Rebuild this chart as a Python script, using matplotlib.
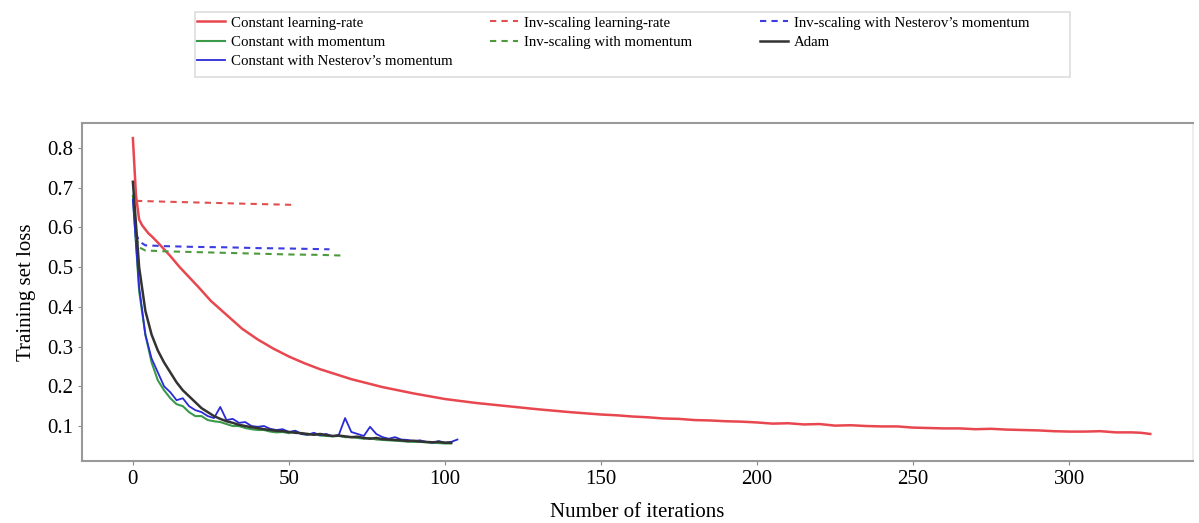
import matplotlib
matplotlib.use("Agg")
import matplotlib.pyplot as plt
from matplotlib.patches import Rectangle

plt.rcParams['font.family'] = ['Liberation Serif', 'DejaVu Serif']

# constant learning-rate (red solid)
red_x = [0, 1, 2, 3, 4, 5, 6, 8, 10, 12, 15, 18, 21, 25, 30, 35, 40, 45, 50, 55, 60, 70, 80, 90,
         100, 110, 120, 130, 140, 150, 155, 160, 165, 170, 175, 180, 185, 190, 195, 200, 205, 210,
         215, 220, 225, 230, 235, 240, 245, 250, 255, 260, 265, 270, 275, 280, 285, 290, 295, 300,
         305, 310, 315, 320, 323, 326]
red_y = [0.825, 0.68, 0.62, 0.605, 0.595, 0.585, 0.578, 0.562, 0.545, 0.528, 0.5, 0.475, 0.45,
         0.415, 0.38, 0.345, 0.318, 0.295, 0.275, 0.258, 0.243, 0.218, 0.198, 0.182,
         0.168, 0.158, 0.150, 0.142, 0.135, 0.129, 0.127, 0.124, 0.122, 0.119, 0.118, 0.115, 0.114,
         0.112, 0.111, 0.109, 0.106, 0.107, 0.104, 0.105, 0.101, 0.102, 0.100, 0.099, 0.099, 0.096,
         0.095, 0.094, 0.094, 0.092, 0.093, 0.091, 0.090, 0.089, 0.087, 0.086, 0.086, 0.087, 0.084,
         0.084, 0.083, 0.080]

# inv-scaling runs (dashed)
inv_lr_x = [1, 10, 20, 30, 40, 51]
inv_lr_y = [0.667, 0.665, 0.663, 0.661, 0.659, 0.657]
inv_nes_x = [1, 2, 4, 10, 20, 30, 40, 50, 63]
inv_nes_y = [0.585, 0.565, 0.555, 0.553, 0.551, 0.550, 0.548, 0.547, 0.545]
inv_mom_x = [1, 2, 4, 10, 20, 30, 40, 50, 60, 68]
inv_mom_y = [0.575, 0.55, 0.542, 0.540, 0.538, 0.536, 0.534, 0.532, 0.531, 0.529]

it2 = list(range(0, 105, 2))
nes_y = [0.67, 0.45, 0.33, 0.27, 0.235, 0.2, 0.185, 0.165, 0.17, 0.15, 0.14, 0.135, 0.125, 0.12,
         0.148, 0.115, 0.118, 0.108, 0.11, 0.1, 0.098, 0.1, 0.093, 0.09, 0.092, 0.085, 0.088, 0.08,
         0.078, 0.083, 0.077, 0.08, 0.074, 0.078, 0.12, 0.085, 0.08, 0.075, 0.098, 0.08, 0.072,
         0.068, 0.072, 0.066, 0.065, 0.062, 0.064, 0.06, 0.058, 0.062, 0.058, 0.06, 0.066]
mom_y = [0.68, 0.44, 0.33, 0.26, 0.215, 0.19, 0.17, 0.155, 0.15, 0.135, 0.125, 0.125, 0.115, 0.112,
         0.11, 0.105, 0.1, 0.1, 0.095, 0.092, 0.09, 0.09, 0.086, 0.084, 0.085, 0.082, 0.088, 0.08,
         0.078, 0.08, 0.076, 0.075, 0.074, 0.075, 0.072, 0.072, 0.07, 0.068, 0.07, 0.066, 0.065,
         0.064, 0.063, 0.062, 0.061, 0.06, 0.06, 0.059, 0.058, 0.057, 0.056, 0.056]
adam_y = [0.715, 0.5, 0.39, 0.33, 0.29, 0.26, 0.235, 0.21, 0.19, 0.175, 0.16, 0.145, 0.135, 0.125,
          0.118, 0.112, 0.108, 0.103, 0.1, 0.097, 0.095, 0.092, 0.09, 0.088, 0.087, 0.085, 0.083,
          0.082, 0.08, 0.078, 0.08, 0.077, 0.075, 0.076, 0.074, 0.072, 0.073, 0.07, 0.068, 0.07,
          0.067, 0.066, 0.065, 0.064, 0.062, 0.063, 0.061, 0.06, 0.059, 0.06, 0.058, 0.058]

fig = plt.figure(figsize=(11.99, 5.23), dpi=100)
ax = fig.add_axes([0.0684, 0.1186, 0.9266, 0.6462])

dash = (0, (3, 2.5))
l1, = ax.plot(red_x, red_y, color='#e8474f', lw=1.8, label='Constant learning-rate')
l2, = ax.plot(it2[:len(mom_y)], mom_y, color='#3a9a4a', lw=1.5, label='Constant with momentum')
l3, = ax.plot(it2[:len(nes_y)], nes_y, color='#2a2ad8', lw=1.3, label='Constant with Nesterov\u2019s momentum')
l4, = ax.plot(inv_lr_x, inv_lr_y, color='#e05050', lw=1.5, ls=dash, label='Inv-scaling learning-rate')
l5, = ax.plot(inv_mom_x, inv_mom_y, color='#4c9a3c', lw=1.5, ls=dash, label='Inv-scaling with momentum')
l6, = ax.plot(inv_nes_x, inv_nes_y, color='#3c3ce0', lw=1.5, ls=dash, label='Inv-scaling with Nesterov\u2019s momentum')
l7, = ax.plot(it2[:len(adam_y)], adam_y, color='#333333', lw=1.8, label='Adam')

ax.set_xlim(-16.3, 339.7)
ax.set_ylim(0.012, 0.863)
ax.set_xticks([0, 50, 100, 150, 200, 250, 300])
ax.set_yticks([0.1, 0.2, 0.3, 0.4, 0.5, 0.6, 0.7, 0.8])
ax.tick_params(labelsize=15, length=3, color='#888888')
for s in ax.spines.values():
    s.set_color('#999999')
    s.set_linewidth(1.5)
ax.spines['right'].set_color('#eeeeee')

ax.set_xlabel('Number of iterations', fontsize=15, labelpad=10)
ax.set_ylabel('Training set loss', fontsize=15, labelpad=8)

# legend: one column per group, sharing one frame
columns = [[l1, l2, l3], [l4, l5], [l6, l7]]
col_x = [0.1643, 0.4087, 0.6339]
for handles, x in zip(columns, col_x):
    lg = fig.legend(handles=handles, loc='upper left', bbox_to_anchor=(x, 0.969),
                    fontsize=10.7, frameon=False, borderpad=0, borderaxespad=0,
                    handlelength=1.9, handletextpad=0.4, labelspacing=0.4)
fig.patches.append(Rectangle((195 / 1199, 1 - 77 / 523), (1070 - 195) / 1199, 65 / 523,
                             transform=fig.transFigure, fill=False, edgecolor='#dddddd',
                             linewidth=1.2))

fig.savefig('out.png', dpi=100)
